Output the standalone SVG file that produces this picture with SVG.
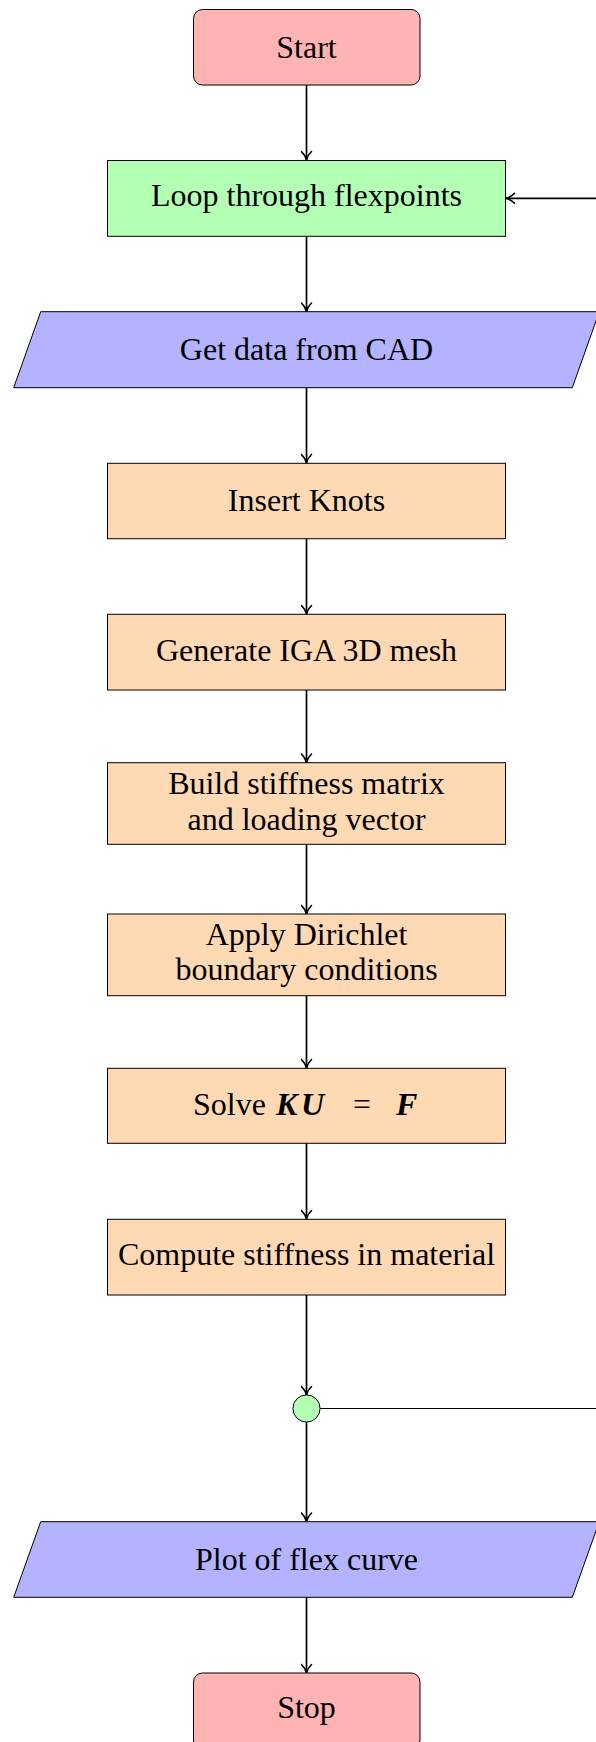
<svg xmlns="http://www.w3.org/2000/svg" width="596" height="1742" viewBox="0 0 596 1742">
<style>
.t{font-family:"Liberation Serif","Times New Roman",serif;font-size:32px;fill:#000;text-anchor:middle}
.term{fill:#FFB3B3;stroke:#000;stroke-width:1}
.loop{fill:#B3FFB3;stroke:#000;stroke-width:1}
.io{fill:#B3B3FF;stroke:#000;stroke-width:1}
.proc{fill:#FFD9B3;stroke:#000;stroke-width:1}
.c{stroke:#000;stroke-width:1.7;fill:none}
.thin{stroke:#000;stroke-width:1.1;fill:none}
.b{font-weight:bold;font-style:italic}
</style>
<defs>
<marker id="arr" viewBox="-10 -6 11 12" refX="0" refY="0" markerWidth="11" markerHeight="12" markerUnits="userSpaceOnUse" orient="auto">
<path d="M -8.5,-5 C -6,-2.3 -2.5,-0.6 0,0 C -2.5,0.6 -6,2.3 -8.5,5" stroke="#000" stroke-width="1.6" fill="none" stroke-linecap="round" stroke-linejoin="round"/>
</marker>
</defs>
<g id="connectors">
<line class="c" x1="306.5" y1="85" x2="306.5" y2="160" marker-end="url(#arr)"/>
<line class="c" x1="306.5" y1="236.3" x2="306.5" y2="311.5" marker-end="url(#arr)"/>
<line class="c" x1="306.5" y1="387.7" x2="306.5" y2="463" marker-end="url(#arr)"/>
<line class="c" x1="306.5" y1="538.7" x2="306.5" y2="614" marker-end="url(#arr)"/>
<line class="c" x1="306.5" y1="690" x2="306.5" y2="762.5" marker-end="url(#arr)"/>
<line class="c" x1="306.5" y1="844.3" x2="306.5" y2="914" marker-end="url(#arr)"/>
<line class="c" x1="306.5" y1="995.7" x2="306.5" y2="1068" marker-end="url(#arr)"/>
<line class="c" x1="306.5" y1="1143.3" x2="306.5" y2="1219" marker-end="url(#arr)"/>
<line class="c" x1="306.5" y1="1295" x2="306.5" y2="1395" marker-end="url(#arr)"/>
<line class="c" x1="306.5" y1="1422" x2="306.5" y2="1521.5" marker-end="url(#arr)"/>
<line class="c" x1="306.5" y1="1597.3" x2="306.5" y2="1673" marker-end="url(#arr)"/>
<line class="thin" x1="320" y1="1408.5" x2="596" y2="1408.5"/>
<line class="c" x1="596" y1="198.3" x2="506" y2="198.3" marker-end="url(#arr)"/>
</g>
<g id="start">
<rect class="term" x="193.5" y="9.5" width="226.5" height="75.5" rx="9"/>
<text class="t" x="306.5" y="58">Start</text>
</g>
<g id="loop">
<rect class="loop" x="107.5" y="160.5" width="398" height="75.8"/>
<text class="t" x="306.5" y="206">Loop through flexpoints</text>
</g>
<g id="getdata">
<polygon class="io" points="40.7,311.7 599.3,311.7 572.3,387.7 13.7,387.7"/>
<text class="t" x="306.5" y="359.5">Get data from CAD</text>
</g>
<g id="insert">
<rect class="proc" x="107.5" y="463.3" width="398" height="75.4"/>
<text class="t" x="306.5" y="511">Insert Knots</text>
</g>
<g id="generate">
<rect class="proc" x="107.5" y="614.3" width="398" height="75.7"/>
<text class="t" x="306.5" y="661">Generate IGA 3D mesh</text>
</g>
<g id="build">
<rect class="proc" x="107.5" y="762.7" width="398" height="81.6"/>
<text class="t" x="306.5" y="793.5">Build stiffness matrix</text>
<text class="t" x="306.5" y="829.5">and loading vector</text>
</g>
<g id="apply">
<rect class="proc" x="107.5" y="914" width="398" height="81.7"/>
<text class="t" x="306.5" y="944.5">Apply Dirichlet</text>
<text class="t" x="306.5" y="980">boundary conditions</text>
</g>
<g id="solve">
<rect class="proc" x="107.5" y="1068.3" width="398" height="75"/>
<text class="t" style="text-anchor:start" y="1114.5"><tspan x="193">Solve</tspan><tspan class="b" x="276">K</tspan><tspan class="b" x="301">U</tspan><tspan x="353">=</tspan><tspan class="b" x="396">F</tspan></text>
</g>
<g id="compute">
<rect class="proc" x="107.5" y="1219.3" width="398" height="75.7"/>
<text class="t" x="306.5" y="1265">Compute stiffness in material</text>
</g>
<g id="junction">
<circle class="loop" cx="306.5" cy="1408.5" r="13.6"/>
</g>
<g id="plot">
<polygon class="io" points="40.7,1521.7 599.3,1521.7 572.3,1597.3 13.7,1597.3"/>
<text class="t" x="306.5" y="1570">Plot of flex curve</text>
</g>
<g id="stop">
<rect class="term" x="193.5" y="1673" width="226.5" height="76" rx="9"/>
<text class="t" x="306.5" y="1717.5">Stop</text>
</g>
</svg>
